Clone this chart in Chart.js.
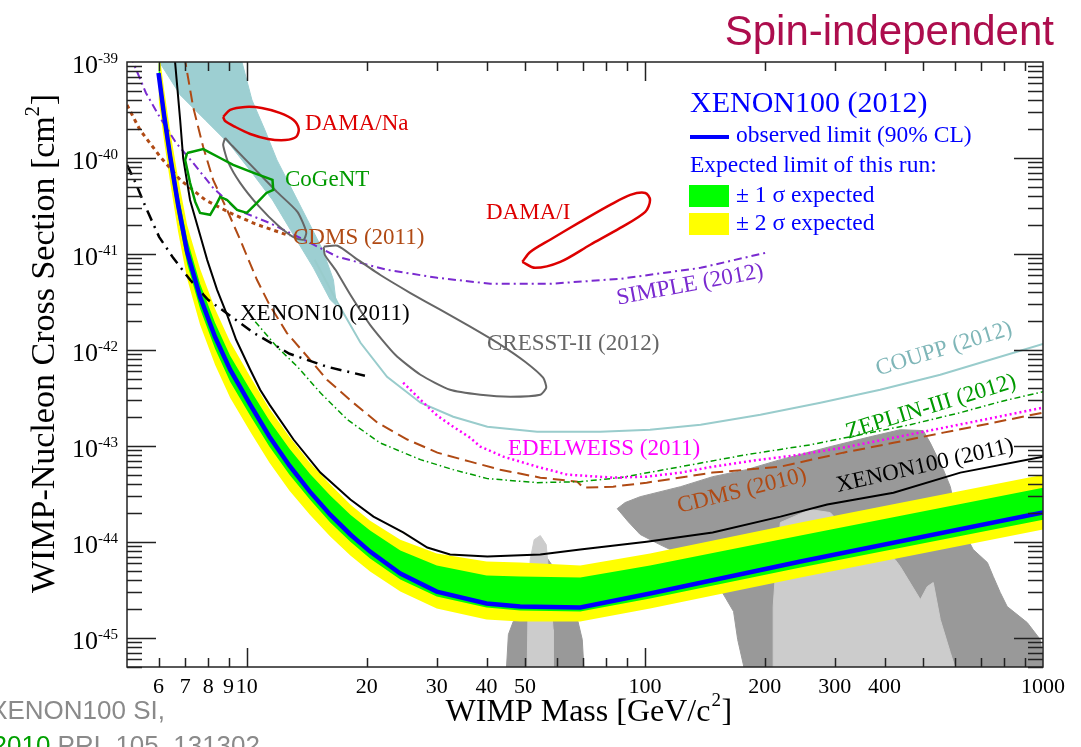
<!DOCTYPE html>
<html>
<head>
<meta charset="utf-8">
<script src="https://cdn.jsdelivr.net/npm/chart.js@4.4.1/dist/chart.umd.min.js"></script>
<style>
  html, body { margin: 0; padding: 0; background: #fff; }
  #wrap { width: 1081px; height: 747px; position: relative; }
</style>
</head>
<body>
<div id="wrap"><canvas id="limits"></canvas></div>
<script>
// ---- XENON100 (2012): observed limit and expected bands (same masses) ----
var obsMass  = [6.0, 6.2, 6.42, 6.72, 7.08, 7.63, 8.32, 9.08, 10.2, 11.4, 12.8, 14.4, 16.2, 18.2, 20.4, 24.3, 30, 40, 48.6, 68.8, 103, 246, 1000];
var obsSigma = [7.69e-40, 2.74e-40, 1.03e-40, 3.25e-41, 1.05e-41, 3.59e-42, 1.37e-42, 6.24e-43, 2.70e-43, 1.25e-43, 6.25e-44, 3.35e-44, 1.93e-44, 1.20e-44, 7.96e-45, 4.70e-45, 3.05e-45, 2.29e-45, 2.13e-45, 2.08e-45, 2.91e-45, 6.27e-45, 2.03e-44];
var band2Up  = [1.43e-39, 5.11e-40, 1.91e-40, 6.21e-41, 2.01e-41, 7.02e-42, 2.69e-42, 1.22e-42, 5.28e-43, 2.45e-43, 1.25e-43, 6.72e-44, 3.97e-44, 2.46e-44, 1.67e-44, 1.06e-44, 7.59e-45, 6.27e-45, 6.12e-45, 5.69e-45, 7.59e-45, 1.60e-44, 5.04e-44];
var band1Up  = [1.02e-39, 3.66e-40, 1.37e-40, 4.33e-41, 1.44e-41, 4.90e-42, 1.92e-42, 8.72e-43, 3.86e-43, 1.84e-43, 9.40e-44, 5.16e-44, 3.05e-44, 1.93e-44, 1.32e-44, 8.15e-45, 5.69e-45, 4.48e-45, 4.38e-45, 4.27e-45, 5.69e-45, 1.17e-44, 3.69e-44];
var band1Lo  = [5.76e-40, 2.06e-40, 7.70e-41, 2.44e-41, 7.91e-42, 2.69e-42, 1.03e-42, 4.68e-43, 2.07e-43, 9.86e-44, 5.04e-44, 2.77e-44, 1.60e-44, 1.01e-44, 6.73e-45, 4.07e-45, 2.71e-45, 2.08e-45, 1.94e-45, 1.89e-45, 2.58e-45, 5.43e-45, 1.71e-44];
var band2Lo  = [4.12e-40, 1.47e-40, 5.51e-41, 1.70e-41, 5.52e-42, 1.83e-42, 7.03e-43, 3.19e-43, 1.41e-43, 6.72e-44, 3.43e-44, 1.93e-44, 1.14e-44, 7.24e-45, 4.93e-45, 3.05e-45, 2.03e-45, 1.56e-45, 1.49e-45, 1.49e-45, 2.03e-45, 4.27e-45, 1.35e-44];

// ---- other limits ----
var x11Mass  = [6.53, 6.8, 6.92, 7.2, 7.63, 7.95, 8.42, 8.92, 9.4, 10.2, 10.8, 11.4, 13.1, 15.3, 18.2, 20.8, 24.7, 28.4, 32.4, 40.2, 54.6, 68.8, 101, 148, 219, 287, 421, 620, 1000];
var x11Sigma = [1.69e-39, 2.49e-40, 1.0e-40, 3.66e-41, 1.58e-41, 8.70e-42, 4.24e-42, 2.33e-42, 1.28e-42, 6.24e-43, 3.86e-43, 2.70e-43, 1.17e-43, 5.29e-44, 2.77e-44, 1.84e-44, 1.26e-44, 8.77e-45, 7.41e-45, 7.07e-45, 7.41e-45, 8.36e-45, 1.01e-44, 1.26e-44, 1.84e-44, 2.46e-44, 3.27e-44, 5.29e-44, 7.76e-44];

var x10Mass  = [5.0, 5.24, 5.58, 6.02, 6.53, 7.2, 7.99, 9.08, 10.4, 12.8, 15.9, 19.8];
var x10Sigma = [8.48e-41, 5.64e-41, 3.03e-41, 1.51e-41, 9.13e-42, 5.39e-42, 3.34e-42, 2.28e-42, 1.51e-42, 9.15e-43, 6.70e-43, 5.40e-43];

var cdms11Mass  = [5.0, 5.39, 6.06, 6.8, 7.86, 9.08, 10.5, 12.8];
var cdms11Sigma = [3.57e-40, 1.96e-40, 1.03e-40, 5.92e-41, 3.66e-41, 2.68e-41, 2.06e-41, 1.55e-41];

var cdms10Mass  = [6.96, 7.33, 7.77, 8.23, 8.92, 9.62, 10.6, 11.4, 12.6, 14.2, 15.9, 18.5, 21.3, 25.3, 30.1, 36.4, 43.3, 54.6, 67.6, 70.0, 83.2, 101, 148, 219, 315, 421, 562, 750, 1000];
var cdms10Sigma = [1.18e-39, 3.40e-40, 1.30e-40, 5.92e-41, 2.88e-41, 1.41e-41, 5.39e-42, 2.96e-42, 1.51e-42, 8.52e-43, 4.91e-43, 2.83e-43, 1.75e-43, 1.17e-43, 8.54e-44, 6.88e-44, 5.68e-44, 4.69e-44, 4.26e-44, 3.69e-44, 3.78e-44, 4.16e-44, 5.29e-44, 6.10e-44, 8.54e-44, 1.08e-43, 1.38e-43, 1.75e-43, 2.23e-43];

var edwMass  = [24.7, 27.3, 30.1, 33.0, 36.4, 38.6, 44.1, 53.6, 63.8, 83.2, 101, 123, 148, 195, 236, 315, 421, 562, 750, 1000];
var edwSigma = [4.57e-43, 3.04e-43, 2.07e-43, 1.59e-43, 1.22e-43, 9.86e-44, 7.76e-44, 6.10e-44, 5.04e-44, 4.69e-44, 4.80e-44, 5.29e-44, 6.10e-44, 7.22e-44, 7.95e-44, 9.63e-44, 1.22e-43, 1.55e-43, 1.97e-43, 2.51e-43];

var zepMass  = [10.5, 11.9, 13.4, 15.3, 17.9, 21.6, 27.3, 33.0, 40.2, 53.6, 68.8, 86.8, 123, 180, 260, 347, 464, 620, 781, 1000];
var zepSigma = [1.97e-42, 1.08e-42, 6.70e-43, 3.59e-43, 1.88e-43, 1.08e-43, 7.22e-44, 5.68e-44, 4.58e-44, 4.16e-44, 4.26e-44, 4.69e-44, 6.10e-44, 8.14e-44, 1.03e-43, 1.31e-43, 1.67e-43, 2.23e-43, 2.90e-43, 3.68e-43];

var couppMass  = [14.8, 16.9, 19.3, 22.5, 27.3, 33.0, 40.2, 53.6, 77.2, 103, 138, 195, 276, 390, 552, 737, 1000];
var couppSigma = [8.70e-42, 3.11e-42, 1.19e-42, 5.27e-43, 2.83e-43, 2.02e-43, 1.59e-43, 1.41e-43, 1.41e-43, 1.48e-43, 1.67e-43, 2.12e-43, 2.83e-43, 3.86e-43, 5.53e-43, 7.93e-43, 1.16e-42];

var simpleMass  = [5.09, 5.58, 6.06, 6.64, 7.33, 8.23, 9.45, 11.4, 13.9, 16.9, 22.5, 30.1, 40.9, 57.8, 86.8, 138, 201];
var simpleSigma = [1.18e-39, 4.76e-40, 2.61e-40, 1.44e-40, 8.89e-41, 4.88e-41, 2.88e-41, 2.11e-41, 1.41e-41, 9.35e-42, 6.85e-42, 5.65e-42, 4.90e-42, 4.90e-42, 5.52e-42, 7.18e-42, 1.03e-41];

// ---- signal claims (closed contours) ----
var damaNaMass  = [8.72, 9.08, 9.90, 10.9, 12.1, 13.1, 13.5, 13.3, 12.5, 11.3, 10.2, 9.35, 8.82, 8.72];
var damaNaSigma = [2.68e-40, 3.17e-40, 3.40e-40, 3.32e-40, 2.95e-40, 2.49e-40, 2.01e-40, 1.66e-40, 1.54e-40, 1.58e-40, 1.78e-40, 2.11e-40, 2.43e-40, 2.68e-40];

var damaIMass  = [49.2, 53.0, 61.3, 72.9, 86.7, 100.2, 103, 100.2, 91.9, 81.8, 68.8, 57.8, 51.5, 49.2];
var damaISigma = [8.29e-42, 7.18e-42, 8.29e-42, 1.25e-41, 1.87e-41, 2.75e-41, 3.66e-41, 4.33e-41, 4.13e-41, 3.25e-41, 2.16e-41, 1.41e-41, 1.05e-41, 8.29e-42];

var cogentMass  = [7.08, 7.77, 8.57, 9.24, 10.4, 11.6, 11.65, 11.2, 10.6, 10.0, 9.45, 8.92, 8.57, 8.42, 8.09, 7.63, 7.42, 7.20, 7.00, 7.08];
var cogentSigma = [1.13e-40, 1.24e-40, 1.0e-40, 8.48e-41, 7.00e-41, 5.92e-41, 4.66e-41, 4.33e-41, 3.41e-41, 2.68e-41, 2.88e-41, 3.66e-41, 3.94e-41, 3.41e-41, 2.56e-41, 2.68e-41, 3.49e-41, 5.51e-41, 9.55e-41, 1.13e-40];

var cresstAMass  = [8.82, 9.19, 10.4, 11.9, 13.4, 14.1, 13.9, 13.2, 12.0, 10.7, 9.62, 8.97, 8.72, 8.82];
var cresstASigma = [1.62e-40, 1.34e-40, 7.89e-41, 4.44e-41, 2.75e-41, 1.70e-41, 1.41e-41, 1.47e-41, 1.97e-41, 3.17e-41, 5.51e-41, 9.11e-41, 1.37e-40, 1.62e-40];
var cresstBMass  = [15.6, 16.9, 18.7, 21.6, 25.7, 30.6, 36.4, 43.3, 50.0, 55.5, 56.5, 54.6, 45.9, 38.6, 32.4, 27.3, 23.6, 20.4, 18.2, 16.7, 15.7, 15.6];
var cresstBSigma = [1.19e-41, 1.22e-41, 9.13e-42, 6.08e-42, 3.95e-42, 2.63e-42, 1.75e-42, 1.14e-42, 7.55e-43, 5.15e-43, 4.05e-43, 3.43e-43, 3.27e-43, 3.43e-43, 3.86e-43, 5.53e-43, 8.93e-43, 1.83e-42, 3.76e-42, 6.85e-42, 9.81e-42, 1.19e-41];

// ---- shaded regions ----
var tealMass  = [5.88, 6.80, 7.86, 9.08, 10.4, 11.6, 13.1, 14.7, 16.2, 16.8, 16.5, 15.5, 14.2, 13.0, 11.9, 11.1, 10.3, 9.62];
var tealSigma = [1.18e-39, 4.54e-40, 2.49e-40, 1.37e-40, 6.67e-41, 3.66e-41, 1.58e-41, 7.18e-42, 3.34e-42, 2.89e-42, 5.39e-42, 1.11e-41, 2.27e-41, 4.66e-41, 9.55e-41, 1.96e-40, 4.02e-40, 1.18e-39];

var susyDarkAMass  = [44.8, 45.4, 46.7, 50.9, 52.4, 56.2, 59.5, 66.8, 69.6, 70.4, 44.8];
var susyDarkASigma = [4.18e-46, 1.09e-45, 1.49e-45, 1.98e-45, 6.58e-45, 7.24e-45, 5.17e-45, 1.98e-45, 9.67e-46, 4.18e-46, 4.18e-46];
var susyLightAMass  = [50.6, 50.9, 51.5, 52.7, 54.6, 56.5, 57.8, 58.8, 58.8, 50.6];
var susyLightASigma = [4.18e-46, 2.52e-45, 6.58e-45, 1.06e-44, 1.17e-44, 9.42e-45, 3.20e-45, 1.23e-45, 4.18e-46, 4.18e-46];
var susyDarkBMass  = [85.2, 89.2, 97.3, 123, 148, 180, 219, 292, 368, 438, 500, 521, 562, 585, 602, 638, 668, 725, 750, 781, 813, 913, 984, 1013, 179, 171, 167, 155, 138, 123, 109, 97.3, 90.8, 85.2];
var susyDarkBSigma = [2.23e-44, 2.58e-44, 2.97e-44, 3.78e-44, 4.80e-44, 5.68e-44, 7.22e-44, 9.86e-44, 1.25e-43, 1.48e-43, 1.45e-43, 1.08e-43, 5.68e-44, 3.78e-44, 2.18e-44, 1.20e-44, 8.36e-45, 6.12e-45, 4.38e-45, 2.98e-45, 2.13e-45, 1.45e-45, 9.67e-46, 4.18e-46, 4.18e-46, 9.67e-46, 1.89e-45, 3.20e-45, 5.17e-45, 7.41e-45, 9.42e-45, 1.20e-44, 1.63e-44, 2.23e-44];
var susyLightBMass  = [210, 210, 214, 219, 260, 292, 315, 368, 425, 438, 492, 512, 530, 552, 585, 609, 210];
var susyLightBSigma = [4.18e-46, 2.13e-45, 6.58e-45, 1.60e-44, 2.18e-44, 2.03e-44, 1.45e-44, 8.36e-45, 6.58e-45, 5.56e-45, 2.52e-45, 3.44e-45, 3.79e-45, 1.56e-45, 7.08e-46, 4.18e-46, 4.18e-46];

// ---- axis ticks ----
var xTickLabels = [6, 7, 8, 9, 10, 20, 30, 40, 50, 100, 200, 300, 400, 1000];
var yTickPowers = [-39, -40, -41, -42, -43, -44, -45];

var SERIF = '"Liberation Serif", "Times New Roman", serif';
var SANS = '"Liberation Sans", Arial, sans-serif';

function pts(ms, ss) {
    return ms.map(function(m, i) { return { x: m, y: ss[i] }; });
}

function curve(ms, ss, color, width, dash, order, tension) {
    return {
        data: pts(ms, ss), borderColor: color, borderWidth: width, borderDash: dash || [],
        pointRadius: 0, fill: false, tension: tension || 0, order: order, clip: 0
    };
}

function region(ms, ss, color, order) {
    return {
        data: pts(ms, ss), borderColor: color, borderWidth: 1, backgroundColor: color,
        pointRadius: 0, fill: 'shape', tension: 0, order: order, clip: 0
    };
}

function drawText(ctx, s, x, y, font, color, align, angle) {
    ctx.save();
    ctx.font = font;
    ctx.fillStyle = color;
    ctx.textAlign = align || 'left';
    ctx.textBaseline = angle !== undefined ? 'middle' : 'alphabetic';
    ctx.translate(x, y);
    if (angle) ctx.rotate(angle * Math.PI / 180);
    ctx.fillText(s, 0, 0);
    ctx.restore();
}

var rootFrame = {
    id: 'rootFrame',
    afterDatasetsDraw: function(chart) {
        var ctx = chart.ctx, a = chart.chartArea;
        var xs = chart.scales.x, ys = chart.scales.y;
        ctx.save();
        ctx.strokeStyle = '#222';
        ctx.lineWidth = 1.5;
        ctx.beginPath();
        // y ticks, both sides, inward
        for (var p = -46; p <= -40; p++) {
            for (var k = 1; k <= 9; k++) {
                var v = k * Math.pow(10, p);
                if (v < ys.min * 0.999 || v > ys.max * 1.001) continue;
                var y = Math.round(ys.getPixelForValue(v)) + 0.5;
                var len = k === 1 ? 29 : 15;
                ctx.moveTo(a.left, y); ctx.lineTo(a.left + len, y);
                ctx.moveTo(a.right, y); ctx.lineTo(a.right - len, y);
            }
        }
        // x ticks, top and bottom, inward
        for (var q = 0; q <= 3; q++) {
            for (var j = 1; j <= 9; j++) {
                var w = j * Math.pow(10, q);
                if (w <= xs.min * 1.001 || w >= xs.max * 0.999) continue;
                var x = Math.round(xs.getPixelForValue(w)) + 0.5;
                var l2 = j === 1 ? 19 : 9;
                ctx.moveTo(x, a.bottom); ctx.lineTo(x, a.bottom - l2);
                ctx.moveTo(x, a.top); ctx.lineTo(x, a.top + l2);
            }
        }
        ctx.stroke();
        ctx.strokeRect(a.left, a.top, a.right - a.left, a.bottom - a.top);
        ctx.restore();

        // tick labels
        xTickLabels.forEach(function(m) {
            drawText(ctx, String(m), xs.getPixelForValue(m), 693, '22px ' + SERIF, '#000', 'center');
        });
        yTickPowers.forEach(function(p) {
            var y = ys.getPixelForValue(Math.pow(10, p));
            ctx.save();
            ctx.font = '15px ' + SERIF;
            var sup = '-' + String(-p);
            var sw = ctx.measureText(sup).width;
            ctx.restore();
            drawText(ctx, sup, 118, y + 1, '15px ' + SERIF, '#000', 'right');
            drawText(ctx, '10', 118 - sw, y + 11, '26px ' + SERIF, '#000', 'right');
        });

        // axis titles
        ctx.save();
        ctx.font = '32px ' + SERIF;
        var tw = ctx.measureText('WIMP Mass [GeV/c').width;
        ctx.restore();
        var xc = 578;
        drawText(ctx, 'WIMP Mass [GeV/c', xc - tw / 2, 721, '32px ' + SERIF, '#000', 'left');
        drawText(ctx, '2', xc + tw / 2 + 1, 706, '19px ' + SERIF, '#000', 'left');
        drawText(ctx, ']', xc + tw / 2 + 11, 721, '32px ' + SERIF, '#000', 'left');

        ctx.save();
        ctx.translate(54, 344);
        ctx.rotate(-Math.PI / 2);
        ctx.font = '34px ' + SERIF;
        ctx.fillStyle = '#000';
        var t1 = 'WIMP-Nucleon Cross Section [cm';
        var w1 = ctx.measureText(t1).width;
        ctx.font = '20px ' + SERIF;
        var w2 = ctx.measureText('2').width;
        ctx.font = '34px ' + SERIF;
        var w3 = ctx.measureText(']').width;
        var x0 = -(w1 + w2 + w3) / 2;
        ctx.fillText(t1, x0, 0);
        ctx.font = '20px ' + SERIF;
        ctx.fillText('2', x0 + w1, -15);
        ctx.font = '34px ' + SERIF;
        ctx.fillText(']', x0 + w1 + w2 + 1, 0);
        ctx.restore();

        // curve labels
        var f = '23px ' + SERIF;
        drawText(ctx, 'DAMA/Na', 305, 130, f, '#dd0000');
        drawText(ctx, 'CoGeNT', 285, 186, f, '#009a00');
        drawText(ctx, 'DAMA/I', 486, 219, f, '#dd0000');
        drawText(ctx, 'CDMS (2011)', 293, 244, f, '#b04a14');
        drawText(ctx, 'XENON10 (2011)', 240, 320, f, '#000');
        drawText(ctx, 'CRESST-II (2012)', 487, 350, f, '#666');
        drawText(ctx, 'EDELWEISS (2011)', 508, 455, f, '#ff00ff');
        drawText(ctx, 'SIMPLE (2012)', 690, 285, f, '#7a2ad0', 'center', -10.6);
        drawText(ctx, 'COUPP (2012)', 944, 349, f, '#7fb6b8', 'center', -17);
        drawText(ctx, 'ZEPLIN-III (2012)', 931, 407, f, '#009a00', 'center', -17);
        drawText(ctx, 'CDMS (2010)', 742, 491, f, '#b04a14', 'center', -14);
        drawText(ctx, 'XENON100 (2011)', 925, 466, f, '#000', 'center', -12.8);

        // legend
        drawText(ctx, 'XENON100 (2012)', 690, 112, '30px ' + SERIF, '#0000ff');
        ctx.save();
        ctx.strokeStyle = '#0000ff';
        ctx.lineWidth = 4;
        ctx.beginPath(); ctx.moveTo(690, 137); ctx.lineTo(729, 137); ctx.stroke();
        ctx.fillStyle = '#00ff00'; ctx.fillRect(689, 185, 40, 22);
        ctx.fillStyle = '#ffff00'; ctx.fillRect(689, 213, 40, 22);
        ctx.restore();
        drawText(ctx, 'observed limit (90% CL)', 736, 142, '23.5px ' + SERIF, '#0000ff');
        drawText(ctx, 'Expected limit of this run:', 690, 172, '23.5px ' + SERIF, '#0000ff');
        drawText(ctx, '\u00b1 1 \u03c3 expected', 736, 202, '23.5px ' + SERIF, '#0000ff');
        drawText(ctx, '\u00b1 2 \u03c3 expected', 736, 230, '23.5px ' + SERIF, '#0000ff');

        // page decorations
        drawText(ctx, 'Spin-independent', 1054, 45, '42px ' + SANS, '#ad0d4d', 'right');
        drawText(ctx, 'XENON100 SI,', 165, 719, '26px ' + SANS, '#8a8a8a', 'right');
        ctx.save();
        ctx.font = '26px ' + SANS;
        var rest = ' PRL 105, 131302';
        var rw = ctx.measureText(rest).width;
        ctx.restore();
        drawText(ctx, rest, 260, 754, '26px ' + SANS, '#8a8a8a', 'right');
        drawText(ctx, '2010', 260 - rw, 754, '26px ' + SANS, '#00a000', 'right');
    }
};

var datasets = [
    // theory regions (background)
    region(susyDarkAMass, susyDarkASigma, '#999999', 100),
    region(susyDarkBMass, susyDarkBSigma, '#999999', 100),
    region(susyLightAMass, susyLightASigma, '#cccccc', 99),
    region(susyLightBMass, susyLightBSigma, '#cccccc', 99),
    region(tealMass, tealSigma, '#9dcfd2', 90),
    // expected bands
    { data: pts(obsMass, band2Up), borderWidth: 0, backgroundColor: '#ffff00', fill: '+1', pointRadius: 0, order: 50, clip: 0 },
    { data: pts(obsMass, band2Lo), borderWidth: 0, fill: false, pointRadius: 0, order: 50, clip: 0 },
    { data: pts(obsMass, band1Up), borderWidth: 0, backgroundColor: '#00ff00', fill: '+1', pointRadius: 0, order: 40, clip: 0 },
    { data: pts(obsMass, band1Lo), borderWidth: 0, fill: false, pointRadius: 0, order: 40, clip: 0 },
    // other experiments
    curve(couppMass, couppSigma, '#99cccc', 2, [], 20),
    curve(simpleMass, simpleSigma, '#7a2ad0', 2, [8, 4, 2, 4], 15),
    curve(cdms11Mass, cdms11Sigma, '#b04a14', 3, [4, 4], 15),
    curve(cdms10Mass, cdms10Sigma, '#b04a14', 2, [12, 6], 15),
    curve(edwMass, edwSigma, '#ff00ff', 2.5, [2, 3], 14),
    curve(zepMass, zepSigma, '#009a00', 1.5, [6, 3, 1.5, 3], 14),
    curve(x10Mass, x10Sigma, '#000000', 2.5, [11, 6, 2, 6], 12),
    curve(x11Mass, x11Sigma, '#000000', 2, [], 12),
    curve(damaNaMass, damaNaSigma, '#dd0000', 2.5, [], 8, 0.3),
    curve(damaIMass, damaISigma, '#dd0000', 2.5, [], 8, 0.3),
    curve(cogentMass, cogentSigma, '#009a00', 2.5, [], 8),
    curve(cresstAMass, cresstASigma, '#666666', 2, [], 8, 0.2),
    curve(cresstBMass, cresstBSigma, '#666666', 2, [], 8, 0.2),
    // observed limit
    curve(obsMass, obsSigma, '#0000ff', 4.5, [], 1)
];

var limitChart = new Chart(document.getElementById('limits'), {
    type: 'line',
    data: { datasets: datasets },
    options: {
        responsive: true,
        maintainAspectRatio: false,
        animation: false,
        events: [],
        layout: { padding: { left: 127, top: 62, right: 38, bottom: 80 } },
        plugins: { legend: { display: false }, tooltip: { enabled: false } },
        scales: {
            x: { type: 'logarithmic', min: 5, max: 1000, display: false },
            y: { type: 'logarithmic', min: 5e-46, max: 1e-39, display: false }
        }
    },
    plugins: [rootFrame]
});
</script>
</body>
</html>
